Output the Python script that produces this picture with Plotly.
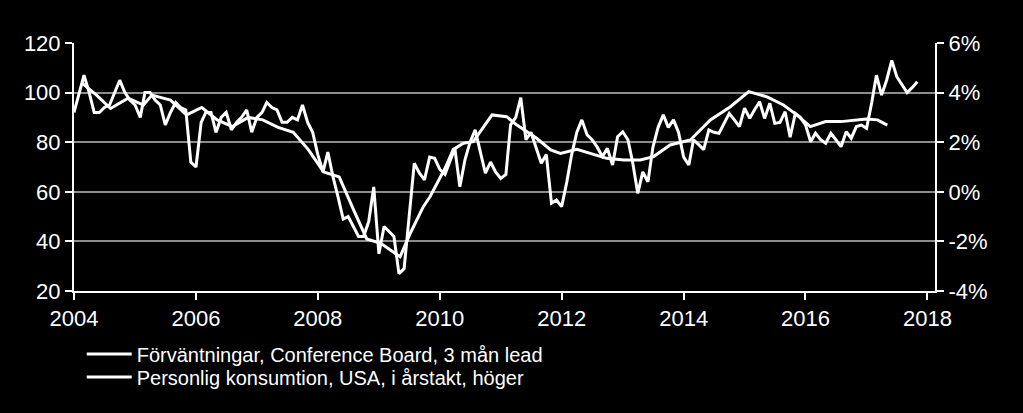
import pandas as pd
import plotly.graph_objects as go

# Conference Board expectations, monthly from Jan 2004 (3 month lead), left axis
expectations = [
    92, 100, 107, 100, 92, 92, 94, 95, 100, 105, 100, 97,
    95, 90, 100, 100, 97, 95, 87, 92, 96, 94, 93, 72,
    70, 88, 92, 92, 84, 90, 92, 85, 88, 90, 93, 84,
    90, 92, 96, 94, 93, 88, 88, 90, 89, 95, 88, 84,
    75, 68, 76, 66, 58, 49, 50, 46, 42, 42, 48, 62,
    35, 46, 44, 42, 27, 29, 50, 71.5, 67.5, 64.8, 74, 73.5,
    69, 67, 72, 77.5, 62, 73, 80, 85, 76, 67.5, 72, 68,
    65.4, 67, 87, 90, 98, 81, 84, 78, 71.5, 75, 55.4, 56.7,
    54, 64, 75, 84, 89, 83, 81, 78, 74.2, 77.5, 70.8, 82.2,
    84.2, 81, 72, 59.4, 68, 64, 78, 86, 91, 86, 89, 84,
    74, 70.8, 81, 79, 77, 85, 84, 83.6, 88, 91.6, 89, 86.3,
    93.7, 89.6, 93, 96.3, 89.6, 95.7, 87.6, 88, 92.3, 82, 91.6, 90,
    87, 80.2, 83.6, 81, 79.6, 83.6, 81, 78.2, 84.2, 81.6, 86.3, 86.9,
    85.6, 96, 107, 99, 105, 113, 106.4, 103, 100, 102, 104.4,
]
expectations_dates = pd.date_range("2004-01-01", periods=len(expectations), freq="MS")

# Personal consumption, USA, y/y %, right axis
consumption_dates = [
    "2004-02-15", "2004-05-15", "2004-08-07", "2004-11-20", "2005-02-20", "2005-04-12",
    "2005-08-01", "2005-11-05", "2006-02-05", "2006-05-08", "2006-08-07", "2006-11-10",
    "2007-02-05", "2007-05-08", "2007-08-07", "2007-11-05", "2008-02-05", "2008-05-08",
    "2008-08-07", "2008-10-20", "2009-01-12", "2009-05-08", "2009-07-08", "2009-09-24",
    "2009-11-03", "2010-02-05", "2010-03-22", "2010-05-22", "2010-07-20", "2010-11-10",
    "2011-02-05", "2011-04-08", "2011-06-07", "2011-08-04", "2011-10-27", "2011-12-25",
    "2012-04-01", "2012-06-20", "2012-09-27", "2013-01-08", "2013-04-16", "2013-07-05",
    "2013-10-12", "2014-02-10", "2014-06-10", "2014-10-08", "2015-01-26", "2015-05-16",
    "2015-08-22", "2015-11-10", "2016-01-30", "2016-05-01", "2016-07-31", "2017-01-01",
    "2017-03-07", "2017-05-05",
]
consumption = [
    4.4, 3.9, 3.36, 3.77, 3.5, 3.9,
    3.7, 3.1, 3.4, 2.9, 2.63, 3.0,
    2.9, 2.6, 2.4, 1.7, 0.8, 0.6,
    -0.8, -1.9, -2.08, -2.62, -1.67, -0.6,
    -0.2, 1.0, 1.7, 1.96, 2.02, 3.1,
    3.03, 2.69, 2.42, 2.16, 1.69, 1.55,
    1.71, 1.55, 1.35, 1.28, 1.28, 1.42,
    1.89, 2.09, 2.9, 3.43, 4.04, 3.83,
    3.5, 3.1, 2.63, 2.83, 2.83, 2.94,
    2.9, 2.69,
]

right_ticks = [-4, -2, 0, 2, 4, 6]
right_labels = ["-4%", "-2%", "0%", "2%", "4%", "6%"]

legend_names = [
    "Förväntningar, Conference Board, 3 mån lead",
    "Personlig konsumtion, USA, i årstakt, höger",
]

FONT = "Liberation Sans, Arial, sans-serif"

fig = go.Figure()
fig.add_trace(go.Scatter(
    x=expectations_dates, y=expectations, name=legend_names[0],
    mode="lines", line=dict(color="white", width=3), legend="legend",
))
fig.add_trace(go.Scatter(
    x=pd.to_datetime(consumption_dates), y=consumption, name=legend_names[1],
    mode="lines", line=dict(color="white", width=3), yaxis="y2", legend="legend2",
))

axis_style = dict(
    zeroline=False,
    showline=True, linecolor="white", linewidth=2,
    ticks="outside", ticklen=7, tickwidth=2, tickcolor="white",
    tickfont=dict(size=22),
)

# one legend per row so the rows can sit as tight as in the original
legend_style = dict(
    x=0.009, xanchor="left", yanchor="top", itemwidth=45,
    bgcolor="rgba(0,0,0,0)", font=dict(size=20, color="white"),
)

fig.update_layout(
    width=1023, height=413,
    margin=dict(l=74, r=88, t=43, b=122),
    paper_bgcolor="black", plot_bgcolor="black",
    font=dict(family=FONT, size=20, color="white"),
    showlegend=True,
    legend=dict(y=-0.175, **legend_style),
    legend2=dict(y=-0.268, **legend_style),
    xaxis=dict(
        range=["2004-01-01", "2018-02-15"],
        tickvals=pd.date_range("2004-01-01", "2018-01-01", freq="24MS"),
        tickformat="%Y",
        showgrid=False,
        **axis_style,
    ),
    yaxis=dict(
        range=[20, 120], dtick=20,
        showgrid=True, gridcolor="#8c8c8c", gridwidth=1.5,
        **axis_style,
    ),
    yaxis2=dict(
        range=[-4, 6], tickvals=right_ticks, ticktext=right_labels,
        overlaying="y", side="right",
        showgrid=False,
        **axis_style,
    ),
)

fig.write_html(
    "out.html",
    config={"displayModeBar": False},
    post_script="document.body.style.margin='0';document.body.style.background='black';",
)
